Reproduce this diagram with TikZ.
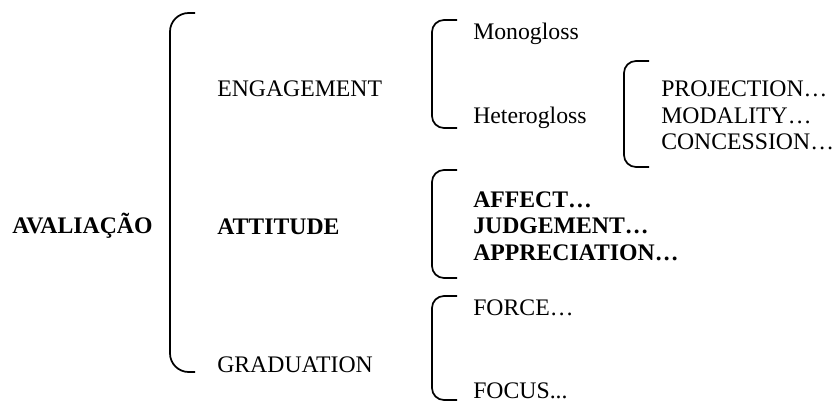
\documentclass[tikz,border=0pt]{standalone}
\usepackage{fontspec}
\setmainfont{Liberation Serif}
\usepackage{tikz}
\usetikzlibrary{positioning, calc}

\begin{document}
\begin{tikzpicture}[x=0.75pt, y=-0.75pt,
  lbl/.style={inner sep=0pt, anchor=base west, font=\fontsize{17.8}{20}\selectfont},
  lblb/.style={lbl, font=\fontsize{17.8}{20}\selectfont\bfseries},
  brak/.style={line width=1.3pt, rounded corners=14pt},
  brakS/.style={line width=1.3pt, rounded corners=9pt}
]
\useasboundingbox (0,0) rectangle (836,403);

\node[lblb] (aval) at (12,233) {AVALIAÇÃO};
\node[lbl] (engag) at (217,97) {ENGAGEMENT};
\node[lblb] (attit) at (217,234) {ATTITUDE};
\node[lbl] (grad) at (217,372) {GRADUATION};

\node[lbl] (mono) at (473,40) {Monogloss};
\node[lbl] (hetero) at (473,123) {Heterogloss};

\node[lbl] (proj) at (661,97) {PROJECTION…};
\node[lbl] (modal) at ($(proj.base west)+(0,26.5)$) {MODALITY…};
\node[lbl] (conc) at ($(modal.base west)+(0,26.5)$) {CONCESSION…};

\node[lblb] (affect) at (473,207) {AFFECT…};
\node[lblb] (judge) at ($(affect.base west)+(0,26.5)$) {JUDGEMENT…};
\node[lblb] (apprec) at ($(judge.base west)+(0,26.5)$) {APPRECIATION…};

\node[lbl] (force) at (473,315) {FORCE…};
\node[lbl] (focus) at (473,398) {FOCUS...};

% brackets
\draw[brak] (195,13) -- (170,13) -- (170,372) -- (195,372);
\draw[brakS] (457,20) -- (432,20) -- (432,128) -- (457,128);
\draw[brakS] (649,61) -- (624,61) -- (624,167) -- (649,167);
\draw[brakS] (457,170) -- (432,170) -- (432,278) -- (457,278);
\draw[brakS] (457,296) -- (432,296) -- (432,400) -- (457,400);
\end{tikzpicture}
\end{document}
